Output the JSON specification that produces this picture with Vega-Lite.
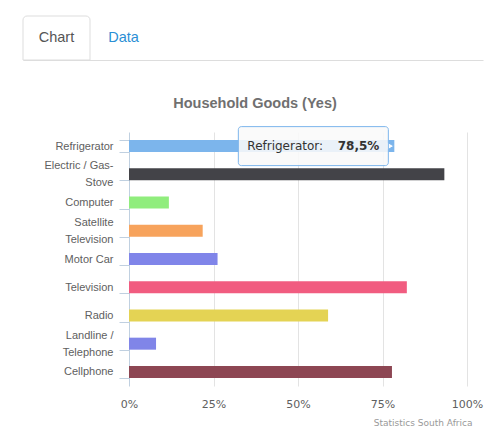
{
  "$schema": "https://vega.github.io/schema/vega-lite/v6.json",
  "width": 338,
  "height": 254,
  "autosize": "none",
  "padding": {"left": 129, "top": 132, "right": 27, "bottom": 46},
  "background": "#ffffff",
  "config": {"view": {"stroke": null}},
  "title": {
    "text": "Household Goods (Yes)",
    "font": "Liberation Sans",
    "fontSize": 14.5,
    "fontWeight": "bold",
    "color": "#707070",
    "anchor": "middle",
    "dx": -43,
    "dy": 100
  },
  "datasets": {
    "goods": [
      {"category": "Refrigerator", "value": 78.5},
      {"category": "Electric / Gas-|Stove", "value": 93.3},
      {"category": "Computer", "value": 11.8},
      {"category": "Satellite|Television", "value": 21.8},
      {"category": "Motor Car", "value": 26.2},
      {"category": "Television", "value": 82.2},
      {"category": "Radio", "value": 58.9},
      {"category": "Landline /|Telephone", "value": 8.0},
      {"category": "Cellphone", "value": 77.8}
    ],
    "tip": [
      {"category": "Refrigerator", "value": 78.5, "name": "Refrigerator:", "shown": "78,5%"}
    ],
    "tabs": [
      {"tab": "Chart", "strip": "tabs", "active": true},
      {"tab": "Data", "strip": "tabs", "active": false}
    ]
  },
  "layer": [
    {
      "encoding": {
        "y": {
          "field": "category",
          "type": "nominal",
          "sort": null,
          "scale": {
            "domain": ["Refrigerator", "Electric / Gas-|Stove", "Computer", "Satellite|Television", "Motor Car", "Television", "Radio", "Landline /|Telephone", "Cellphone"],
            "paddingInner": 0.57,
            "paddingOuter": 0.285
          },
          "axis": {
            "title": null,
            "labelExpr": "datum.value ? split(datum.value, '|') : ''",
            "labelFont": "Liberation Sans",
            "labelFontSize": 11,
            "labelColor": "#606060",
            "labelPadding": 6,
            "labelLineHeight": 17,
            "labelOffset": {"condition": {"test": "datum.value && indexof(datum.value, '|') >= 0", "value": -8.5}, "value": 0},
            "tickBand": "extent",
            "tickSize": 10,
            "tickColor": "#c0d0e0",
            "domainColor": "#c0d0e0",
            "grid": false
          }
        }
      },
      "layer": [
        {
          "data": {"name": "goods"},
          "mark": {"type": "bar", "size": 12},
          "encoding": {
            "x": {
              "field": "value",
              "type": "quantitative",
              "scale": {"domain": [0, 100], "nice": false},
              "axis": {
                "values": [0, 25, 50, 75, 100],
                "labelExpr": "datum.value + '%'",
                "labelFlush": false,
                "grid": true,
                "gridColor": "#e3e3e3",
                "gridOpacity": {"condition": {"test": "datum.value === 0", "value": 0}, "value": 1},
                "domain": false,
                "ticks": false,
                "labelFont": "DejaVu Sans",
                "labelFontSize": 11,
                "labelColor": "#606060",
                "labelPadding": 12,
                "title": "Statistics South Africa",
                "titleFont": "DejaVu Sans",
                "titleFontSize": 9,
                "titleFontWeight": "normal",
                "titleColor": "#999999",
                "titleX": 343,
                "titleY": 36,
                "titleAlign": "right",
                "titleBaseline": "middle"
              }
            },
            "color": {
              "field": "category",
              "type": "nominal",
              "legend": null,
              "scale": {
                "domain": ["Refrigerator", "Electric / Gas-|Stove", "Computer", "Satellite|Television", "Motor Car", "Television", "Radio", "Landline /|Telephone", "Cellphone"],
                "range": ["#7cb5ec", "#434348", "#90ed7d", "#f7a35c", "#8085e9", "#f15c80", "#e4d354", "#8085e8", "#8d4653"]
              }
            }
          }
        },
        {
          "data": {"name": "tip"},
          "mark": {"type": "point", "shape": "triangle-right", "xOffset": -4, "size": 70, "filled": true, "fill": "#fafcff", "stroke": "#7cb5ec", "strokeWidth": 1, "opacity": 1},
          "encoding": {
            "x": {"field": "value", "type": "quantitative"}
          }
        },
        {
          "data": {"name": "tip"},
          "mark": {"type": "bar", "size": 39, "xOffset": -156, "x2Offset": -6, "fill": "#f9f9f9", "fillOpacity": 0.88, "stroke": "#7cb5ec", "strokeWidth": 1, "cornerRadius": 3},
          "encoding": {
            "x": {"field": "value", "type": "quantitative"},
            "x2": {"field": "value"}
          }
        },
        {
          "data": {"name": "tip"},
          "mark": {"type": "text", "align": "left", "baseline": "middle", "xOffset": -147, "font": "DejaVu Sans", "fontSize": 12, "color": "#333333"},
          "encoding": {
            "x": {"field": "value", "type": "quantitative"},
            "text": {"field": "name"}
          }
        },
        {
          "data": {"name": "tip"},
          "mark": {"type": "text", "align": "right", "baseline": "middle", "xOffset": -15, "font": "DejaVu Sans", "fontSize": 12, "fontWeight": "bold", "color": "#333333"},
          "encoding": {
            "x": {"field": "value", "type": "quantitative"},
            "text": {"field": "shown"}
          }
        }
      ]
    },
    {
      "data": {"name": "tabs"},
      "layer": [
        {
          "transform": [{"filter": "datum.active"}],
          "mark": {"type": "rect", "fill": "#ffffff", "stroke": "#dddddd", "strokeWidth": 1, "cornerRadiusTopLeft": 4, "cornerRadiusTopRight": 4},
          "encoding": {
            "x": {"field": "tab", "type": "nominal"},
            "y": {"field": "strip", "type": "nominal"}
          }
        },
        {
          "mark": {"type": "text", "font": "Liberation Sans", "fontSize": 14.5, "baseline": "middle", "align": "center"},
          "encoding": {
            "x": {"field": "tab", "type": "nominal"},
            "y": {"field": "strip", "type": "nominal"},
            "text": {"field": "tab"},
            "color": {"condition": {"test": "datum.active", "value": "#555555"}, "value": "#2b8fd5"}
          }
        }
      ],
      "encoding": {
        "x": {
          "field": "tab",
          "type": "nominal",
          "scale": {"domain": ["Chart", "Data", "tab3", "tab4", "tab5", "tab6"], "range": [-106, 354], "paddingInner": 0, "paddingOuter": 0.4328, "align": 0},
          "axis": {"orient": "top", "offset": 72, "labels": false, "ticks": false, "title": null, "domainColor": "#dddddd", "grid": false}
        },
        "y": {
          "field": "strip",
          "type": "nominal",
          "scale": {"domain": ["tabs"], "range": [-116, -72], "paddingInner": 0, "paddingOuter": 0},
          "axis": null
        }
      }
    }
  ],
  "resolve": {"scale": {"x": "independent", "y": "independent", "color": "independent"}}
}
